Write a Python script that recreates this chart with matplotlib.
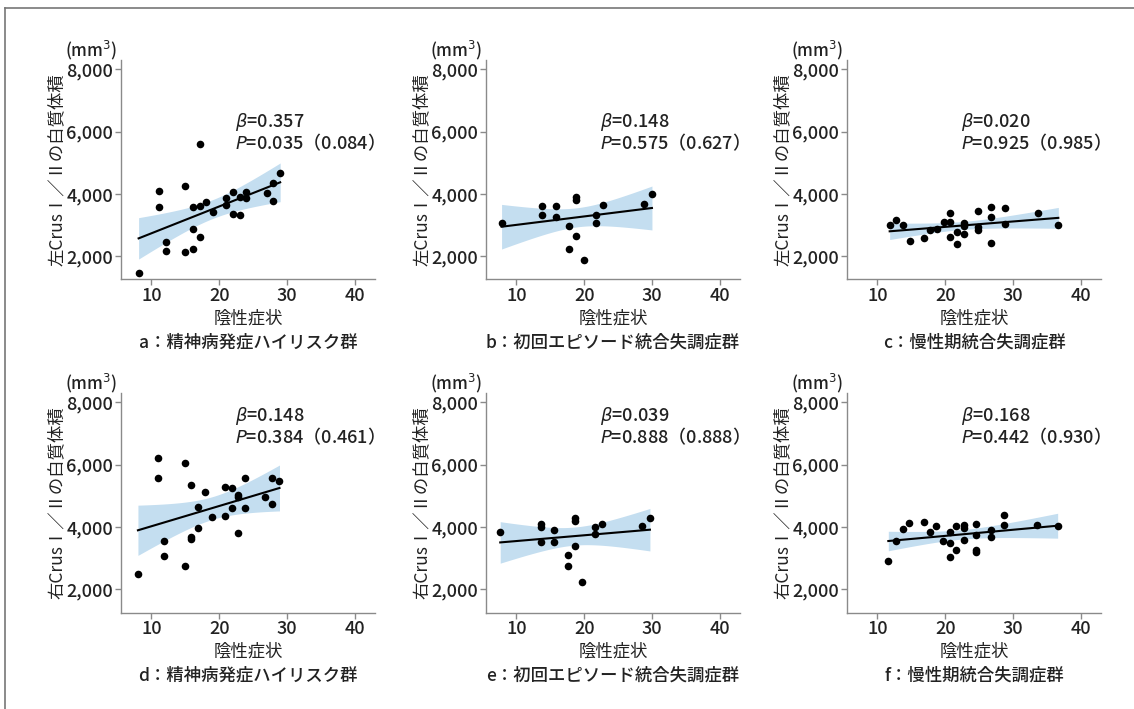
import numpy as np
import matplotlib
matplotlib.use("Agg")
import matplotlib.pyplot as plt
from matplotlib.lines import Line2D

plt.rcParams['font.family'] = ['Noto Sans CJK JP', 'DejaVu Sans']
plt.rcParams['font.weight'] = 'medium'
plt.rcParams['mathtext.fontset'] = 'dejavusans'

# ---- data ----
# a: high risk, left Crus I/II
a_x = [8.1, 11.1, 11.1, 12.1, 12.1, 15.0, 15.0, 16.1, 16.1, 16.1, 17.1, 17.1, 17.1, 18.1,
       19.1, 21.0, 21.0, 22.0, 22.0, 23.0, 23.0, 24.0, 24.0, 27.0, 27.9, 27.9, 29.0]
a_y = [1480, 4100, 3600, 2470, 2170, 4270, 2130, 2230, 2870, 3590, 2620, 3630, 5600, 3740,
       3440, 3870, 3650, 4060, 3370, 3330, 3920, 4080, 3870, 4030, 4370, 3780, 4690]
# b: first episode, left
b_x = [7.8, 13.8, 13.8, 15.8, 15.8, 17.8, 17.8, 18.8, 18.8, 18.8, 19.9, 21.8, 21.8, 22.8,
       28.9, 30.0]
b_y = [3080, 3620, 3340, 3620, 3260, 2960, 2240, 3890, 3820, 2650, 1890, 3330, 3070, 3650,
       3680, 4000]
# c: chronic, left
c_x = [11.8, 12.8, 13.8, 14.8, 16.8, 17.8, 18.8, 19.8, 20.7, 20.7, 20.7, 21.8, 21.8, 22.8,
       22.8, 22.8, 24.8, 24.8, 24.8, 26.8, 26.8, 26.8, 28.8, 28.8, 33.7, 36.7]
c_y = [3000, 3160, 3000, 2500, 2590, 2850, 2890, 3110, 3110, 3400, 2630, 2790, 2410, 3070,
       2960, 2730, 3460, 2940, 2860, 3590, 3260, 2440, 3540, 3050, 3400, 3000]
# d: high risk, right
d_x = [8.0, 10.9, 10.9, 11.9, 11.9, 14.9, 14.9, 15.9, 15.9, 15.9, 16.9, 16.9, 17.9, 18.9,
       20.9, 20.9, 21.9, 21.9, 22.8, 22.8, 22.8, 23.8, 23.8, 26.8, 27.8, 27.8, 28.9]
d_y = [2490, 6220, 5560, 3540, 3070, 6040, 2750, 5350, 3680, 3610, 4640, 3960, 5120, 4330,
       5300, 4370, 5240, 4610, 5040, 4960, 3810, 5560, 4610, 4960, 5560, 4730, 5490]
# e: first episode, right
e_x = [7.6, 13.6, 13.6, 13.6, 15.6, 15.6, 17.6, 17.6, 18.6, 18.6, 18.6, 19.6, 21.6, 21.6,
       22.6, 28.6, 29.7]
e_y = [3830, 4100, 4010, 3510, 3900, 3510, 3110, 2740, 4300, 4190, 3400, 2230, 4010, 3780,
       4100, 4040, 4290]
# f: chronic, right
f_x = [11.6, 12.7, 13.7, 14.7, 16.8, 17.7, 18.7, 19.7, 20.7, 20.7, 20.7, 21.6, 21.6, 22.7,
       22.7, 22.7, 24.6, 24.6, 24.6, 24.6, 26.7, 26.7, 28.7, 28.7, 33.6, 36.6]
f_y = [2900, 3540, 3950, 4130, 4170, 3830, 4020, 3540, 3850, 3500, 3040, 3250, 4020, 4060,
       3960, 3580, 4110, 3760, 3260, 3200, 3920, 3670, 4380, 4070, 4060, 4030]

betas = ['0.357', '0.148', '0.020', '0.148', '0.039', '0.168']
pvals = ['0.035', '0.575', '0.925', '0.384', '0.888', '0.442']
pcorr = ['0.084', '0.627', '0.985', '0.461', '0.888', '0.930']
groups = ['精神病発症ハイリスク群', '初回エピソード統合失調症群', '慢性期統合失調症群']
letters = ['a', 'b', 'c', 'd', 'e', 'f']
sides = ['左', '右']
xlabel = '陰性症状'
xticks = [10, 20, 30, 40]
yticks = [2000, 4000, 6000, 8000]

xs_all = [a_x, b_x, c_x, d_x, e_x, f_x]
ys_all = [a_y, b_y, c_y, d_y, e_y, f_y]

BAND = '#c4def0'
AXC = '#8a8a8a'
TXT = '#222222'


def fit_band(x, y, t=2.06):
    # OLS line with 95% confidence band of the mean
    x = np.asarray(x, float)
    y = np.asarray(y, float)
    n = len(x)
    slope, icpt = np.polyfit(x, y, 1)
    xs = np.linspace(x.min(), x.max(), 100)
    yhat = icpt + slope * xs
    resid = y - (icpt + slope * x)
    s = np.sqrt(np.sum(resid ** 2) / (n - 2))
    se = s * np.sqrt(1 / n + (xs - x.mean()) ** 2 / np.sum((x - x.mean()) ** 2))
    return xs, yhat, yhat - t * se, yhat + t * se


W, H = 1134, 709
fig = plt.figure(figsize=(W / 100, H / 100), dpi=100)

lefts = [121, 486, 847]
rows = [(60, 279.5), (393, 612.5)]  # top px, bottom px

for i in range(6):
    r, c = divmod(i, 3)
    top, bot = rows[r]
    ax = fig.add_axes([lefts[c] / W, 1 - bot / H, 254 / W, (bot - top) / H])
    xs, yhat, lo, hi = fit_band(xs_all[i], ys_all[i])
    ax.fill_between(xs, lo, hi, color=BAND, lw=0, zorder=1)
    ax.plot(xs, yhat, color='black', lw=1.5, zorder=2)
    ax.scatter(xs_all[i], ys_all[i], s=30, color='black', zorder=3, lw=0)

    ax.set_xlim(5.5, 43)
    ax.set_ylim(1260, 8300)
    ax.set_xticks(xticks)
    ax.set_yticks(yticks)
    ax.set_yticklabels([f'{v:,}' for v in yticks])
    for sp in ['top', 'right']:
        ax.spines[sp].set_visible(False)
    for sp in ['left', 'bottom']:
        ax.spines[sp].set_color(AXC)
        ax.spines[sp].set_linewidth(1.0)
    ax.tick_params(colors=AXC, labelcolor=TXT, labelsize=13, length=4, width=1, pad=1.5)

    ax.set_ylabel(sides[r] + 'CrusⅠ／Ⅱの白質体積', fontsize=12.5, color=TXT)
    ax.yaxis.set_label_coords(-55 / 254, 0.5)
    ax.set_xlabel(xlabel, fontsize=12.5, color=TXT, labelpad=3)
    ax.text(0.5, -63 / (bot - top), letters[i] + '：' + groups[c], transform=ax.transAxes,
            ha='center', va='center', fontsize=12.5, color=TXT)
    ax.annotate('(mm$^3$)', xy=(0, 1), xycoords='axes fraction', xytext=(-4, -2),
                textcoords='offset pixels', ha='right', va='bottom', fontsize=12, color=TXT)

    ty = 6300 if r == 0 else 7550
    ax.text(22.3, ty, r'$\beta$=' + betas[i], fontsize=13, color=TXT, va='center')
    ax.text(22.3, ty - 640, r'$P$=' + pvals[i] + '（' + pcorr[i] + '）',
            fontsize=13, color=TXT, va='center')

# frame around the figure (top and left edges visible)
fig.add_artist(Line2D([5 / W, 1], [1 - 8 / H, 1 - 8 / H], color='#777777', lw=1.2))
fig.add_artist(Line2D([5 / W, 5 / W], [1 - 8 / H, 0], color='#777777', lw=1.2))

fig.savefig('out.png', dpi=100)
